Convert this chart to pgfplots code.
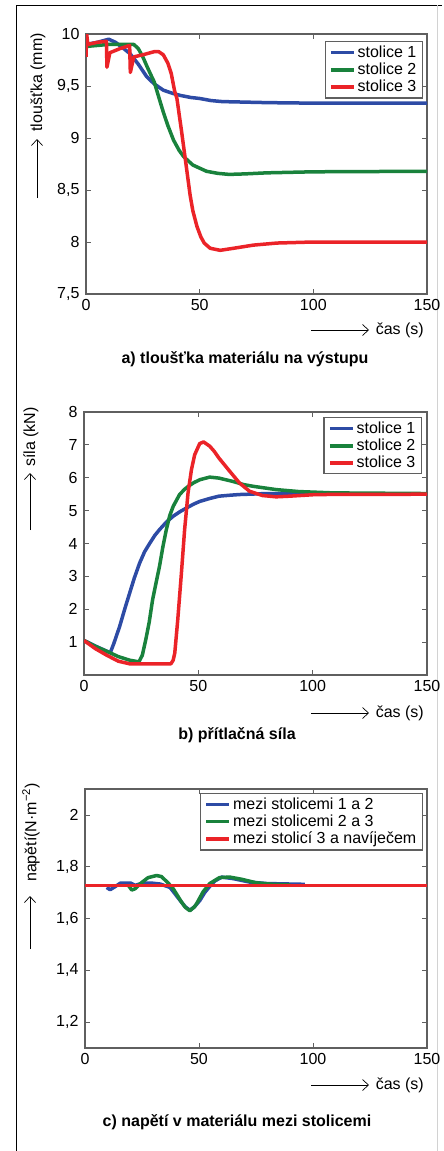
\documentclass[border=0pt]{standalone}
\usepackage{fontspec}
\setmainfont{Liberation Sans}
\usepackage{pgfplots}
\pgfplotsset{compat=1.18}
\usetikzlibrary{arrows.meta}

\definecolor{cblue}{RGB}{45,75,165}
\definecolor{cgreen}{RGB}{25,130,60}
\definecolor{cred}{RGB}{235,35,40}
\definecolor{axgray}{RGB}{95,95,95}

\newcommand{\fs}{\fontsize{16}{18}\selectfont}

\tikzset{arrlab/.style={line width=0.7pt, -{Straight Barb[length=6pt,width=11pt]}}}

\pgfplotsset{
  mat/.style={
    scale only axis,
    width=341pt,
    xmin=0, xmax=150,
    xtick={0,50,100,150},
    axis line style={axgray, line width=1.2pt},
    tick style={axgray, line width=0.8pt},
    major tick length=5pt,
    tick align=inside,
    xtick pos=both, ytick pos=both,
    ticklabel style={font=\fs},
    yticklabel style={xshift=-3pt},
    xticklabel style={yshift=-2pt},
    /pgf/number format/assume math mode=true,
    /pgf/number format/use comma,
    legend cell align=left,
    legend style={font=\fs, draw=axgray, line width=1.2pt, fill=white,
      inner xsep=4pt, inner ysep=2.5pt, row sep=0pt,
      /tikz/every even column/.append style={column sep=2pt}},
    legend image code/.code={\draw[#1,line width=3.5pt] (0pt,0pt)--(23pt,0pt);},
    every axis plot/.append style={line width=3.5pt, line join=round},
  },
}

\begin{document}
\begin{tikzpicture}
\path[use as bounding box] (0,0) rectangle (444pt,-1151pt);
\draw[black, line width=1pt] (16pt,-1151pt)--(16pt,-5pt)--(442pt,-5pt);
\draw[gray!35, line width=0.8pt] (437pt,-5pt)--(437pt,-1151pt);

% a) tloustka
\begin{axis}[mat, at={(86pt,-294pt)}, anchor=south west, height=260pt,
  ymin=7.5, ymax=10, ytick={7.5,8,8.5,9,9.5,10},
  legend style={at={(0.988,0.973)}, anchor=north east}]
\addplot[cblue] coordinates {
 (0,9.90) (5,9.92) (10,9.95) (13,9.92) (16,9.87) (19.4,9.81) (23,9.71)
 (26.7,9.59) (30,9.52) (34,9.46) (38,9.43) (41.4,9.41) (46,9.39) (50,9.38)
 (55,9.36) (60,9.35) (70,9.345) (80,9.34) (100,9.335) (150,9.335)};
\addlegendentry{stolice 1}
\addplot[cgreen] coordinates {
 (0,9.88) (5,9.89) (10,9.90) (15,9.90) (19.4,9.90) (21,9.90) (23,9.86)
 (25,9.78) (27,9.68) (28.9,9.59) (30,9.54) (32.6,9.35) (34,9.25) (36,9.12)
 (38.5,8.98) (41,8.88) (43,8.82) (47,8.74) (53,8.68) (58,8.66) (63,8.65)
 (70,8.655) (79.5,8.665) (100,8.675) (150,8.68)};
\addlegendentry{stolice 2}
\addplot[cred] coordinates {
 (0,9.78) (0.3,10.0) (0.8,9.90) (5,9.92) (9.0,9.93) (9.2,9.68) (10.5,9.82)
 (15,9.86) (19.2,9.89) (19.5,9.63) (21,9.78) (25,9.80) (30,9.83) (32,9.83)
 (34,9.80) (36,9.72) (37.5,9.62) (39,9.45) (40,9.38) (42,9.07) (43.6,8.81)
 (45.8,8.45) (47,8.30) (48.8,8.15) (50.5,8.05) (52,7.99) (54.6,7.94)
 (59,7.92) (65,7.94) (73.6,7.97) (84,7.99) (100,8.0) (150,8.0)};
\addlegendentry{stolice 3}
\end{axis}

% b) pritlacna sila
\begin{axis}[mat, at={(84pt,-675pt)}, anchor=south west, width=343pt, height=263pt,
  ymin=0, ymax=8, ytick={1,2,3,4,5,6,7,8},
  legend style={at={(0.985,0.981)}, anchor=north east}]
\addplot[cblue] coordinates {
 (0,1.05) (5,0.88) (10,0.72) (11.5,0.68) (13,0.95) (15.6,1.48) (18,2.05)
 (20,2.5) (22,2.95) (24.3,3.4) (26.5,3.75) (28.7,4.0) (31,4.25) (33,4.42)
 (36,4.65) (39,4.83) (42,4.97) (44.8,5.08) (48,5.2) (50.6,5.28) (55,5.37)
 (59,5.44) (64,5.47) (68,5.49) (80,5.52) (100,5.51) (150,5.5)};
\addlegendentry{stolice 1}
\addplot[cgreen] coordinates {
 (0,1.05) (5,0.87) (10,0.72) (15,0.56) (20,0.45) (24,0.40) (25.5,0.6)
 (27,1.07) (28.5,1.6) (30,2.29) (31.5,2.8) (33,3.3) (34.5,3.9) (36,4.42)
 (37.5,4.85) (39,5.13) (41.8,5.49) (44,5.65) (46,5.76) (48,5.85) (50.6,5.94)
 (55,6.02) (59,5.99) (65,5.89) (70,5.79) (74,5.74) (84,5.64) (94,5.58)
 (109,5.54) (150,5.52)};
\addlegendentry{stolice 2}
\addplot[cred] coordinates {
 (0,1.05) (5,0.80) (10,0.60) (15,0.42) (20,0.34) (30,0.34) (38,0.34)
 (39,0.45) (39.7,0.67) (41,1.68) (42.6,3.1) (44,4.42) (45.5,5.54) (47,6.25)
 (48.4,6.70) (50.6,7.04) (52.3,7.09) (55,6.96) (57,6.8) (59,6.6) (63.7,6.2)
 (68,5.84) (72.4,5.59) (78,5.46) (84,5.42) (90,5.44) (101.6,5.49) (150,5.5)};
\addlegendentry{stolice 3}
\end{axis}

% c) napeti
\begin{axis}[mat, at={(85pt,-1048pt)}, anchor=south west, width=342pt, height=259pt,
  ymin=1.1, ymax=2.1, ytick={1.2,1.4,1.6,1.8,2},
  legend style={at={(0.988,0.985)}, anchor=north east}]
\addplot[cblue] coordinates {
 (9.5,1.72) (11,1.711) (13,1.722) (15.6,1.737) (20,1.737) (22,1.728)
 (25,1.736) (29,1.737) (33,1.733) (37.3,1.72) (41.7,1.67) (44,1.645)
 (46,1.632) (48,1.645) (50.4,1.67) (52.5,1.70) (54.8,1.725) (57,1.745)
 (60,1.76) (65,1.754) (72,1.741) (79.6,1.735) (96.4,1.732)};
\addlegendentry{mezi stolicemi 1 a 2}
\addplot[cgreen] coordinates {
 (19,1.728) (20.5,1.71) (22,1.715) (24,1.733) (27.7,1.758) (31.4,1.766)
 (33.5,1.762) (36.5,1.737) (38.7,1.715) (42.3,1.664) (44,1.643) (46,1.63)
 (48,1.645) (49,1.658) (51.8,1.703) (54.7,1.735) (59,1.758) (63.5,1.76)
 (69,1.751) (75,1.738) (82.5,1.732) (90,1.73)};
\addlegendentry{mezi stolicemi 2 a 3}
\addplot[cred] coordinates {(0,1.727) (150,1.727)};
\addlegendentry{mezi stolicí 3 a navíječem}
\end{axis}

% axis labels with long arrows
\draw[arrlab] (37pt,-198pt)--(37pt,-139pt);
\node[rotate=90, anchor=east, font=\fs, inner sep=0pt] at (38pt,-33pt) {tloušťka (mm)};
\draw[arrlab] (30pt,-530pt)--(30pt,-473pt);
\node[rotate=90, anchor=east, font=\fs, inner sep=0pt] at (31pt,-407pt) {síla (kN)};
\draw[arrlab] (30pt,-949pt)--(30pt,-896pt);
\node[rotate=90, anchor=east, font=\fs, inner sep=0pt] at (31pt,-783pt) {napětí(N·m\textsuperscript{−2})};

\draw[arrlab] (311pt,-330pt)--(369pt,-330pt);
\node[anchor=east, font=\fs, inner sep=0pt] at (424pt,-330pt) {čas (s)};
\draw[arrlab] (311pt,-713pt)--(369pt,-713pt);
\node[anchor=east, font=\fs, inner sep=0pt] at (424pt,-713pt) {čas (s)};
\draw[arrlab] (311pt,-1085pt)--(369pt,-1085pt);
\node[anchor=east, font=\fs, inner sep=0pt] at (424pt,-1085pt) {čas (s)};

% captions
\node[font=\fs\bfseries] at (245pt,-359pt) {a) tloušťka materiálu na výstupu};
\node[font=\fs\bfseries] at (237pt,-735pt) {b) přítlačná síla};
\node[font=\fs\bfseries] at (237pt,-1122pt) {c) napětí v materiálu mezi stolicemi};
\end{tikzpicture}
\end{document}
